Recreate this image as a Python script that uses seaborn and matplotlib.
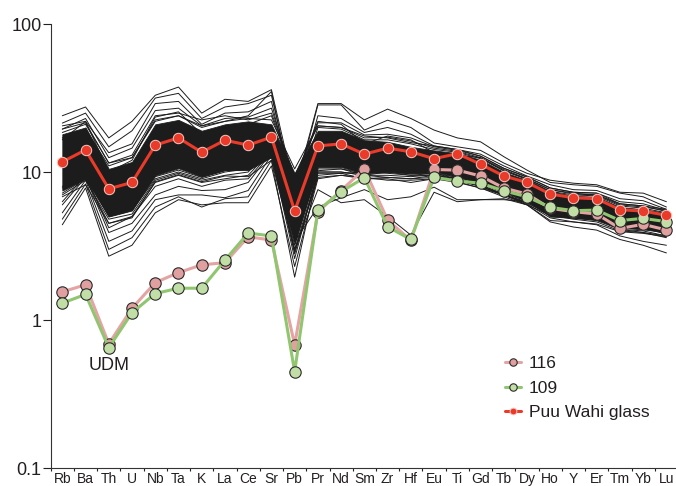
import numpy as np
import pandas as pd
import matplotlib
matplotlib.use("Agg")
from matplotlib import pyplot as plt
from matplotlib.ticker import FixedLocator, NullFormatter, NullLocator
import seaborn as sns

elements = ['Rb', 'Ba', 'Th', 'U', 'Nb', 'Ta', 'K', 'La', 'Ce', 'Sr', 'Pb', 'Pr', 'Nd', 'Sm',
            'Zr', 'Hf', 'Eu', 'Ti', 'Gd', 'Tb', 'Dy', 'Ho', 'Y', 'Er', 'Tm', 'Yb', 'Lu']

puu_wahi = [11.7, 14.1, 7.7, 8.5, 15.2, 17.0, 13.6, 16.4, 15.2, 17.2, 5.45, 15.0, 15.5, 13.2,
            14.5, 13.7, 12.3, 13.3, 11.3, 9.4, 8.5, 7.1, 6.7, 6.6, 5.56, 5.45, 5.1]
s116 = [1.55, 1.73, 0.69, 1.20, 1.79, 2.09, 2.36, 2.44, 3.65, 3.47, 0.68, 5.37, 7.5, 10.5,
        4.74, 3.45, 10.4, 10.3, 9.4, 7.8, 7.1, 5.68, 5.4, 5.2, 4.16, 4.43, 4.06]
s109 = [1.30, 1.49, 0.65, 1.12, 1.51, 1.64, 1.64, 2.54, 3.87, 3.70, 0.448, 5.5, 7.36, 9.15,
        4.27, 3.5, 9.2, 8.7, 8.4, 7.47, 6.8, 5.77, 5.48, 5.53, 4.7, 4.86, 4.62]

# dense core of the Hawaiian lava envelope
band_hi = [18.0, 20.0, 10.5, 11.7, 21.0, 22.5, 19.0, 21.0, 22.0, 21.0, 9.8, 19.0, 19.0, 16.4,
           16.0, 14.8, 14.0, 13.4, 12.1, 10.0, 8.8, 7.4, 6.9, 6.8, 5.8, 5.6, 5.3]
band_lo = [7.5, 9.0, 5.0, 5.5, 9.5, 10.6, 9.3, 10.3, 10.3, 12.6, 3.3, 10.8, 10.8, 9.8,
           10.0, 9.8, 10.0, 9.3, 8.4, 7.3, 6.4, 5.0, 4.9, 4.75, 4.2, 4.1, 3.9]

# individual lavas around / outside the core
outliers = {
    'up1': [24.0, 27.5, 17.0, 22.0, 33.0, 37.5, 25.0, 31.0, 30.0, 36.0, 7.5, 29.0, 29.0, 22.5,
            26.6, 23.0, 19.2, 17.0, 16.0, 12.7, 10.3, 8.5, 8.2, 8.0, 7.2, 6.8, 5.8],
    'up2': [21.4, 25.0, 14.8, 19.0, 31.6, 34.0, 23.0, 27.5, 29.0, 33.0, 7.0, 28.4, 28.4, 19.2,
            22.4, 20.0, 15.7, 14.8, 14.0, 11.5, 9.8, 8.8, 8.4, 8.2, 7.3, 7.2, 6.3],
    'up3': [20.5, 22.0, 13.5, 15.5, 29.0, 30.0, 21.0, 25.0, 25.5, 30.0, 6.5, 24.0, 23.0, 18.5,
            20.0, 18.0, 15.0, 14.2, 13.2, 11.0, 9.4, 8.2, 7.6, 7.5, 6.6, 6.4, 5.6],
    'up4': [19.5, 23.0, 12.5, 14.5, 26.0, 27.0, 20.5, 23.0, 23.5, 27.0, 8.5, 21.5, 21.5, 17.8,
            18.0, 17.0, 14.8, 14.0, 12.8, 10.6, 9.2, 7.8, 7.3, 7.2, 6.3, 6.1, 5.5],
    'up5': [18.5, 21.0, 11.5, 13.0, 24.0, 25.0, 22.5, 24.0, 22.5, 25.0, 9.5, 20.5, 20.0, 17.0,
            17.2, 16.2, 14.5, 13.8, 12.5, 10.4, 9.0, 7.6, 7.1, 7.0, 6.1, 5.9, 5.4],
    'up6': [17.0, 19.5, 11.0, 12.5, 22.0, 24.0, 20.0, 22.0, 24.0, 35.0, 6.0, 20.0, 19.5, 16.5,
            16.5, 15.5, 14.2, 13.6, 12.3, 10.2, 8.9, 7.4, 7.0, 6.9, 5.9, 5.7, 5.3],
    'e1': [19.5, 21.5, 11.5, 12.5, 22.5, 24.0, 20.5, 22.0, 23.0, 22.5, 10.5, 20.5, 20.0, 17.5,
           17.0, 15.8, 15.0, 14.2, 12.8, 10.6, 9.3, 7.8, 7.3, 7.2, 6.1, 5.9, 5.6],
    'e2': [16.5, 22.0, 10.0, 12.0, 23.5, 25.5, 18.0, 20.0, 21.0, 24.0, 9.0, 22.0, 21.0, 15.5,
           17.5, 16.5, 13.5, 13.0, 12.5, 10.2, 9.0, 7.6, 7.2, 7.0, 6.0, 5.8, 5.5],
    'e3': [6.8, 8.2, 4.5, 4.9, 8.6, 9.6, 8.6, 9.4, 9.3, 12.0, 3.0, 9.8, 9.8, 9.0,
           9.2, 9.0, 9.2, 8.6, 7.8, 6.8, 6.0, 4.7, 4.6, 4.45, 3.95, 3.85, 3.65],
    'e4': [6.3, 9.5, 4.2, 5.0, 8.0, 9.0, 8.0, 8.8, 9.0, 13.8, 2.9, 9.2, 9.5, 9.2,
           8.8, 8.8, 9.0, 8.8, 8.0, 7.0, 6.2, 5.1, 4.8, 4.6, 4.0, 3.9, 3.7],
    'lo1': [4.4, 7.8, 2.7, 3.2, 5.3, 6.5, 6.0, 6.2, 6.2, 11.0, 2.3, 9.0, 9.5, 9.0,
            9.0, 8.5, 9.0, 8.5, 7.8, 7.0, 6.2, 5.2, 5.0, 4.8, 4.1, 3.9, 3.6],
    'lo2': [4.8, 8.3, 3.0, 3.6, 5.8, 6.8, 5.8, 6.6, 6.8, 12.0, 1.95, 10.0, 10.0, 9.5,
            9.2, 9.0, 9.5, 8.8, 8.0, 7.0, 6.3, 5.3, 5.0, 4.9, 4.3, 4.2, 3.8],
    'lo3': [5.3, 8.8, 3.4, 4.0, 6.5, 7.0, 7.0, 6.7, 7.5, 13.0, 2.6, 10.2, 10.5, 9.5,
            9.5, 9.3, 9.6, 9.0, 8.2, 7.1, 6.4, 5.4, 5.1, 5.0, 4.4, 4.3, 3.9],
    'lo4': [6.0, 9.2, 3.9, 4.5, 7.0, 8.0, 7.5, 7.6, 8.5, 13.5, 2.8, 9.5, 9.8, 10.0,
            9.8, 9.5, 9.8, 9.2, 8.4, 7.3, 6.5, 5.5, 5.2, 5.1, 4.5, 4.4, 4.0],
    'lo5': [7.2, 9.0, 4.5, 5.0, 8.5, 9.5, 8.5, 9.0, 9.5, 14.0, 3.0, 7.6, 6.2, 6.5,
            5.0, 3.75, 7.3, 6.3, 6.5, 6.5, 6.3, 5.4, 5.2, 5.0, 4.4, 4.3, 4.0],
    'lo6': [7.0, 8.8, 4.8, 5.2, 8.8, 9.8, 8.8, 9.5, 10.0, 14.5, 3.4, 5.8, 6.7, 7.6,
            6.5, 6.8, 7.9, 6.5, 6.5, 6.6, 6.0, 5.1, 4.9, 4.7, 4.1, 4.0, 3.7],
    'lo7': [8.0, 9.5, 5.0, 5.5, 9.0, 10.0, 9.0, 10.0, 10.5, 12.5, 3.5, 10.0, 10.0, 9.5,
            10.0, 9.5, 9.5, 9.0, 8.0, 7.0, 6.0, 4.6, 4.25, 4.05, 3.5, 3.2, 2.84],
    'lo8': [7.8, 9.2, 5.2, 5.8, 9.3, 10.3, 9.2, 10.2, 10.5, 13.0, 3.2, 10.5, 10.5, 9.8,
            10.2, 9.7, 9.8, 9.0, 8.2, 7.0, 6.1, 4.9, 4.6, 4.4, 3.7, 3.4, 3.2],
}

sns.set_style("ticks")
plt.rcParams['font.family'] = ['Liberation Sans', 'DejaVu Sans']
TXT = '#231f20'
plt.rcParams['text.color'] = TXT
plt.rcParams['xtick.color'] = TXT
plt.rcParams['ytick.color'] = TXT
plt.rcParams['axes.edgecolor'] = '#333333'

pos = np.arange(len(elements))

long_df = pd.DataFrame(
    [(name, i, v) for name, vals in outliers.items() for i, v in enumerate(vals)],
    columns=['sample', 'pos', 'value'])

fig = plt.figure(figsize=(6.76, 4.86), dpi=100)
ax = fig.add_axes([0.075, 0.037, 0.928, 0.9136])

ax.fill_between(pos, band_lo, band_hi, color='#1c1c1c', lw=0.6, zorder=1)
sns.lineplot(data=long_df, x='pos', y='value', units='sample', estimator=None,
             color='#1c1c1c', lw=0.7, ax=ax, legend=False, zorder=2)

sns.lineplot(x=pos, y=s116, ax=ax, color='#e4a4a3', lw=2.2, marker='o', markersize=8.2,
             markerfacecolor='#e0a09f', markeredgecolor='#2a2a2a', markeredgewidth=0.8,
             label='116', zorder=4)
sns.lineplot(x=pos, y=s109, ax=ax, color='#90c66f', lw=2.2, marker='o', markersize=8.2,
             markerfacecolor='#c2dea7', markeredgecolor='#2a2a2a', markeredgewidth=0.8,
             label='109', zorder=5)
sns.lineplot(x=pos, y=puu_wahi, ax=ax, color='#ea3a2a', lw=2.2, marker='o', markersize=7.5,
             markerfacecolor='#ea3a2a', markeredgecolor='#f6c9c2', markeredgewidth=0.7,
             label='Puu Wahi glass', zorder=6)

ax.set_yscale('log')
ax.set_ylim(0.1, 100)
ax.set_xlim(-0.5, 26.5)
ax.yaxis.set_major_locator(FixedLocator([0.1, 1, 10, 100]))
ax.yaxis.set_minor_locator(NullLocator())
ax.set_yticklabels(['0.1', '1', '10', '100'])
ax.tick_params(axis='y', which='major', length=5.5, width=0.8, pad=1, labelsize=13)

ax.set_xticks(pos)
ax.set_xticklabels(elements)
ax.xaxis.set_minor_locator(FixedLocator(np.arange(-0.5, 26.6, 1)))
ax.xaxis.set_minor_formatter(NullFormatter())
ax.tick_params(axis='x', which='major', length=0, pad=3, labelsize=10)
ax.tick_params(axis='x', which='minor', length=2.5, width=0.8)
ax.set_xlabel('')
ax.set_ylabel('')
sns.despine(ax=ax)

ax.text(2, 0.49, 'UDM', ha='center', va='center', fontsize=13)

ax.legend(loc='upper left', bbox_to_anchor=(0.737, 0.282), bbox_transform=fig.transFigure,
          frameon=False, fontsize=12.5, handlelength=0.9, handletextpad=0.45,
          labelspacing=0.55, borderaxespad=0, markerscale=0.65)

fig.savefig('out.png', dpi=100)
